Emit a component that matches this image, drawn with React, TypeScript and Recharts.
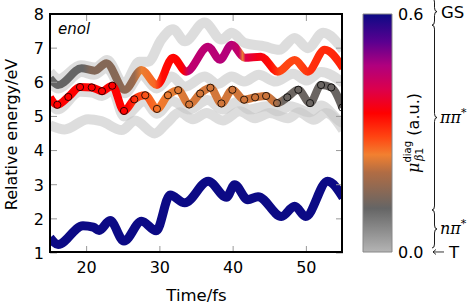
import React from "react";
import {
  LineChart,
  Line,
  XAxis,
  YAxis,
  BarChart,
  Bar,
  ReferenceArea,
} from "recharts";

const FONT = "DejaVu Sans";

const timeTicks = [20, 30, 40, 50];
const energyTicks = [1, 2, 3, 4, 5, 6, 7, 8];
const timeDomain = [15, 55];
const energyDomain = [1, 8];
const muTicks = [0, 0.6];

// [time fs, energy eV]
const groundState: [number, number][] = [
  [15, 1.45], [16.1, 1.25], [19.5, 1.8], [20.9, 1.76], [21.7, 1.66], [23.2, 1.95],
  [25.1, 1.35], [27.5, 1.93], [29.5, 1.65], [31.4, 2.7], [33.4, 2.47], [36.6, 3.1],
  [39.1, 2.63], [40.2, 3.0], [42, 2.56], [43.4, 2.65], [46.6, 2.07], [48.4, 2.37],
  [49.9, 2.07], [52.9, 3.1], [55, 2.62],
];

const upperState: [number, number][] = [
  [15, 6.12], [16.1, 5.92], [19.3, 6.41], [21.1, 6.34], [22.7, 6.56], [25.2, 5.78],
  [27.5, 6.36], [29.6, 5.92], [31.8, 6.72], [33.6, 6.31], [36.6, 7.04], [38.2, 6.66],
  [39.8, 7.1], [41.6, 6.72], [43.8, 6.75], [46.1, 6.31], [48.4, 6.65], [50.2, 6.31],
  [52.5, 6.95], [55, 6.42],
];

const circledState: [number, number][] = [
  [15, 5.56], [16, 5.34], [17.5, 5.57], [19.1, 5.86], [20.7, 5.85], [22.1, 5.74],
  [23.5, 5.9], [25.1, 5.16], [26.5, 5.5], [28, 5.62], [29.6, 5.22], [31.1, 5.62],
  [32.5, 5.77], [34, 5.35], [35.5, 5.67], [36.9, 5.84], [38.4, 5.38], [39.9, 5.78],
  [41.5, 5.49], [43, 5.56], [44.5, 5.6], [46, 5.39], [47.4, 5.56], [48.9, 5.78],
  [50.5, 5.39], [52, 5.92], [53.4, 5.85], [54.9, 5.26],
];

const tripletTop: [number, number][] = [
  [15, 6.3], [16.2, 6.1], [19.2, 6.5], [21.2, 6.43], [22.8, 6.65], [25.1, 5.95],
  [27.2, 6.6], [28.4, 6.6], [30.2, 7.25], [31.8, 7.55], [33.4, 7.2], [36.1, 7.75],
  [38.4, 7.25], [39.8, 7.45], [41.6, 7.15], [44.3, 7.05], [46.3, 6.95], [48.4, 7.3],
  [50.2, 7.0], [52.3, 7.45], [55, 6.95],
];

const tripletMid: [number, number][] = [
  [15, 6.0], [16.1, 5.82], [19.3, 6.3], [21, 6.22], [22.7, 6.42], [25.2, 5.68],
  [27.4, 6.22], [29.6, 5.82], [31.6, 6.17], [33.4, 5.87], [36.1, 6.17], [37.9, 5.95],
  [39.8, 6.17], [41.5, 6.02], [43.5, 6.22], [45.8, 6.02], [48.2, 6.25], [50, 6.05],
  [52, 6.3], [55, 5.98],
];

const tripletLow: [number, number][] = [
  [15, 5.45], [16, 5.2], [19.1, 5.72], [20.7, 5.7], [22.1, 5.6], [23.5, 5.76],
  [25.1, 5.0], [27.9, 5.45], [29.6, 5.08], [31.6, 5.45], [34, 5.2], [36.5, 5.48],
  [38.6, 5.2], [40.5, 5.42], [42.2, 5.2], [44.5, 5.3], [46.1, 5.15], [47.8, 5.3],
  [50.4, 5.12], [52, 5.32], [54.6, 4.85], [55, 4.8],
];

const tripletBottom: [number, number][] = [
  [15, 4.74], [17, 4.62], [20.2, 4.92], [22, 4.86], [24.8, 4.6], [26.6, 4.88],
  [29.3, 4.5], [31, 4.82], [32.7, 5.12], [34.5, 4.92], [36.4, 5.1], [38.6, 4.88],
  [40.9, 5.15], [43, 4.95], [45, 5.1], [47.5, 4.95], [49, 5.12], [51, 4.9],
  [52.7, 5.1], [55, 4.6],
];

// mu_diag along the coloured traces [time fs, a.u.]
const upperMu: [number, number][] = [
  [15, 0.11], [19.5, 0.11], [20.5, 0.145], [24, 0.15], [26.5, 0.17], [27.5, 0.24],
  [29.3, 0.265], [30.3, 0.34], [33, 0.35], [34, 0.45], [39.4, 0.465], [40.8, 0.44],
  [41.3, 0.24], [41.7, 0.41], [43.2, 0.37], [45, 0.34], [46.5, 0.29], [49, 0.29],
  [50.5, 0.31], [55, 0.32],
];

const circledMu: [number, number][] = [
  [15, 0.35], [25.5, 0.35], [26.8, 0.3], [28.5, 0.27], [30, 0.25], [32, 0.235],
  [34, 0.225], [45.3, 0.22], [46.8, 0.12], [55, 0.115],
];

const groundMu = 0.6;

const cmapStops: [number, string][] = [
  [0.0, "#b4b4b4"], [0.11, "#656565"], [0.2, "#b06c44"], [0.245, "#f28030"],
  [0.29, "#ff4512"], [0.35, "#ff0000"], [0.41, "#dc004c"], [0.47, "#b0007e"],
  [0.53, "#5a0090"], [0.6, "#0c0a85"],
];

const bands = [
  { label: "GS", from: 0.572, to: 0.64, math: false },
  { label: "ππ", from: 0.106, to: 0.572, math: true },
  { label: "nπ", from: 0.01, to: 0.106, math: true },
];
const tripletLevel = 0;

// layout of the main panel
const MAIN_W = 360;
const MAIN_H = 305;
const MAIN_MARGIN = { top: 14, right: 17, bottom: 0, left: 0 };
const Y_AXIS_W = 50;
const X_AXIS_H = 52;
const PLOT_TOP = MAIN_MARGIN.top;
const PLOT_LEFT = MAIN_MARGIN.left + Y_AXIS_W;
const PLOT_RIGHT = MAIN_W - MAIN_MARGIN.right;
const PLOT_BOTTOM = MAIN_H - MAIN_MARGIN.bottom - X_AXIS_H;
const FRAME = 2.4;

const toPoints = (arr: [number, number][]) => arr.map(([t, e]) => ({ t, e }));

const rgb = (h: string) => [1, 3, 5].map((i) => parseInt(h.slice(i, i + 2), 16));

function cmap(v: number) {
  let i = 0;
  while (i < cmapStops.length - 2 && v > cmapStops[i + 1][0]) i++;
  const [v0, c0] = cmapStops[i];
  const [v1, c1] = cmapStops[i + 1];
  const f = Math.max(0, Math.min(1, (v - v0) / (v1 - v0)));
  const a = rgb(c0);
  const b = rgb(c1);
  const c = a.map((x, k) => Math.round(x + (b[k] - x) * f));
  return `rgb(${c[0]},${c[1]},${c[2]})`;
}

function traceGradient(id: string, trace: [number, number][], mu: [number, number][]) {
  const t0 = trace[0][0];
  const t1 = trace[trace.length - 1][0];
  return (
    <linearGradient id={id} x1="0" y1="0" x2="1" y2="0">
      {mu.map(([t, v], i) => (
        <stop
          key={i}
          offset={Math.max(0, Math.min(1, (t - t0) / (t1 - t0)))}
          stopColor={cmap(v)}
        />
      ))}
    </linearGradient>
  );
}

const TICK_GRAY = "#999999";

// bottom ticks: inward mark at bottom and top of the frame, label below
const BottomTick = (p: any) => (
  <g>
    <line x1={p.x} x2={p.x} y1={p.y} y2={p.y - 7} stroke={TICK_GRAY} />
    <line x1={p.x} x2={p.x} y1={PLOT_TOP} y2={PLOT_TOP + 7} stroke={TICK_GRAY} />
    <text x={p.x} y={p.y + 20} textAnchor="middle" fontSize={16} fontFamily={FONT} fill="#000">
      {p.payload.value}
    </text>
  </g>
);

const LeftTick = (p: any) => (
  <g>
    <line x1={p.x} x2={p.x + 7} y1={p.y} y2={p.y} stroke={TICK_GRAY} />
    <line x1={PLOT_RIGHT} x2={PLOT_RIGHT - 7} y1={p.y} y2={p.y} stroke={TICK_GRAY} />
    <text x={p.x - 6} y={p.y + 5.8} textAnchor="end" fontSize={16} fontFamily={FONT} fill="#000">
      {p.payload.value}
    </text>
  </g>
);

const TimeLabel = (p: any) => {
  const vb = p.viewBox;
  return (
    <text
      x={vb.x + vb.width / 2}
      y={vb.y + 48}
      textAnchor="middle"
      fontSize={16.5}
      fontFamily={FONT}
      fill="#000"
    >
      Time/fs
    </text>
  );
};

const EnergyLabel = (p: any) => {
  const cx = p.viewBox.x + 17;
  const cy = p.viewBox.y + p.viewBox.height / 2 + 1;
  return (
    <text
      x={cx}
      y={cy}
      transform={`rotate(-90, ${cx}, ${cy})`}
      textAnchor="middle"
      fontSize={16}
      fontFamily={FONT}
      fill="#000"
    >
      Relative energy/eV
    </text>
  );
};

const grayLine = { stroke: "#c6c6c6", strokeOpacity: 0.6, strokeWidth: 10 };

function bracePath(x: number, y1: number, y2: number) {
  const w = 5;
  const m = (y1 + y2) / 2;
  const q = Math.min(4, (y2 - y1) / 4);
  const h = x + w / 2;
  return `M${x},${y1} Q${h},${y1} ${h},${y1 + q} L${h},${m - q} Q${h},${m} ${x + w},${m} Q${h},${m} ${h},${m + q} L${h},${y2 - q} Q${h},${y2} ${x},${y2}`;
}

const braceShape = (label: string, math: boolean) => (p: any) => {
  const x = p.x + p.width + 40;
  const y1 = p.y;
  const y2 = p.y + p.height;
  const m = (y1 + y2) / 2;
  return (
    <g>
      <path d={bracePath(x, y1, y2)} fill="none" stroke="#000" strokeWidth={0.9} />
      {math ? (
        <text x={x + 8} y={m + 5} fontSize={16} fontFamily="DejaVu Serif" fontStyle="italic" fill="#000">
          {label}
          <tspan fontSize={11} dy={-7}>*</tspan>
        </text>
      ) : (
        <text x={x + 9} y={m + 6} fontSize={16.5} fontFamily={FONT} fill="#000">
          {label}
        </text>
      )}
    </g>
  );
};

const tripletMark = (p: any) => {
  const x = p.x + p.width + 41;
  const y = p.y + p.height / 2;
  return (
    <g>
      <path
        d={`M${x + 11},${y} L${x},${y} M${x + 3},${y - 2.5} L${x},${y} L${x + 3},${y + 2.5}`}
        fill="none"
        stroke="#000"
        strokeWidth={0.8}
      />
      <text x={x + 16} y={y + 6} fontSize={16.5} fontFamily={FONT} fill="#000">T</text>
    </g>
  );
};

const muLabel = (p: any) => {
  const vb = p.viewBox;
  const cx = vb.x + 27;
  const cy = vb.y + vb.height / 2;
  return (
    <text
      x={cx}
      y={cy}
      transform={`rotate(-90, ${cx}, ${cy})`}
      textAnchor="middle"
      fontSize={16}
      fontFamily={FONT}
      fill="#000"
    >
      <tspan fontFamily="DejaVu Serif" fontStyle="italic">μ</tspan>
      <tspan fontSize={10} dy={-8}>diag</tspan>
      <tspan fontSize={11} dx={-20} dy={12} fontFamily="DejaVu Serif" fontStyle="italic">β</tspan>
      <tspan fontSize={11}>1</tspan>
      <tspan dy={-4} dx={12}>(a.u.)</tspan>
    </text>
  );
};

export default function App() {
  return (
    <div style={{ position: "absolute", left: 0, top: 0, width: 471, height: 305, background: "#fff" }}>
      <div style={{ position: "absolute", left: 0, top: 0 }}>
        <LineChart width={MAIN_W} height={MAIN_H} margin={MAIN_MARGIN}>
          <defs>
            {traceGradient("upperGrad", upperState, upperMu)}
            {traceGradient("circledGrad", circledState, circledMu)}
          </defs>
          {[tripletBottom, tripletLow, tripletMid, tripletTop].map((tr, i) => (
            <Line
              key={`tr${i}`}
              xAxisId="b"
              yAxisId="l"
              data={toPoints(tr)}
              dataKey="e"
              type="monotone"
              {...grayLine}
              dot={false}
              activeDot={false}
              isAnimationActive={false}
            />
          ))}
          <Line
            xAxisId="b"
            yAxisId="l"
            data={toPoints(groundState)}
            dataKey="e"
            type="monotone"
            stroke={cmap(groundMu)}
            strokeWidth={9}
            dot={false}
            activeDot={false}
            isAnimationActive={false}
          />
          <Line
            xAxisId="b"
            yAxisId="l"
            data={toPoints(upperState)}
            dataKey="e"
            type="monotone"
            stroke="url(#upperGrad)"
            strokeWidth={8}
            dot={false}
            activeDot={false}
            isAnimationActive={false}
          />
          <Line
            xAxisId="b"
            yAxisId="l"
            data={toPoints(circledState)}
            dataKey="e"
            type="monotone"
            stroke="url(#circledGrad)"
            strokeWidth={8}
            dot={(p: any) =>
              p.index === 0 ? (
                <g key={`d${p.index}`} />
              ) : (
                <circle
                  key={`d${p.index}`}
                  cx={p.cx}
                  cy={p.cy}
                  r={3.6}
                  fill="none"
                  stroke="#000"
                  strokeWidth={0.8}
                />
              )
            }
            activeDot={false}
            isAnimationActive={false}
          />
          <XAxis
            xAxisId="b"
            type="number"
            dataKey="t"
            domain={timeDomain}
            allowDataOverflow
            ticks={timeTicks}
            height={X_AXIS_H}
            tickSize={0}
            tickMargin={0}
            tick={BottomTick}
            axisLine={false}
            label={{ content: TimeLabel }}
          />
          <YAxis
            yAxisId="l"
            type="number"
            domain={energyDomain}
            ticks={energyTicks}
            width={Y_AXIS_W}
            tickSize={0}
            tickMargin={0}
            tick={LeftTick}
            axisLine={false}
            label={{ content: EnergyLabel }}
          />
        </LineChart>
      </div>
      {/* black box round the plot area */}
      <div
        style={{
          position: "absolute",
          left: PLOT_LEFT - FRAME / 2,
          top: PLOT_TOP - FRAME / 2,
          width: PLOT_RIGHT - PLOT_LEFT - FRAME,
          height: PLOT_BOTTOM - PLOT_TOP - FRAME,
          border: `${FRAME}px solid #000`,
          pointerEvents: "none",
        }}
      />
      <div
        style={{
          position: "absolute",
          left: 58,
          top: 22,
          fontFamily: FONT,
          fontStyle: "italic",
          fontSize: 15,
          lineHeight: "15px",
          color: "#000",
        }}
      >
        enol
      </div>
      <div style={{ position: "absolute", left: 355, top: 0 }}>
        <BarChart
          width={116}
          height={305}
          data={[{ name: "mu", v: muTicks[1] }]}
          margin={{ top: 14, right: 0, bottom: 53, left: 8 }}
          barCategoryGap={0}
        >
          <defs>
            <linearGradient id="cbar" x1="0" y1="1" x2="0" y2="0">
              {cmapStops.map(([v, c], i) => (
                <stop key={i} offset={v / muTicks[1]} stopColor={c} />
              ))}
            </linearGradient>
          </defs>
          <XAxis dataKey="name" hide />
          <YAxis
            orientation="right"
            type="number"
            domain={[0, 0.6]}
            ticks={muTicks}
            width={79}
            tickFormatter={(v: number) => v.toFixed(1)}
            axisLine={false}
            tickLine={false}
            tickSize={0}
            tickMargin={6}
            tick={{ fontSize: 16, fontFamily: FONT, fill: "#000" }}
            label={{ content: muLabel }}
          />
          <Bar dataKey="v" fill="url(#cbar)" stroke="#888" strokeWidth={1} isAnimationActive={false} />
          {bands.map((b) => (
            <ReferenceArea
              key={b.label}
              y1={b.from}
              y2={b.to}
              ifOverflow="visible"
              shape={braceShape(b.label, b.math)}
            />
          ))}
          <ReferenceArea
            y1={tripletLevel}
            y2={tripletLevel + 0.0001}
            ifOverflow="visible"
            shape={tripletMark}
          />
        </BarChart>
      </div>
    </div>
  );
}
